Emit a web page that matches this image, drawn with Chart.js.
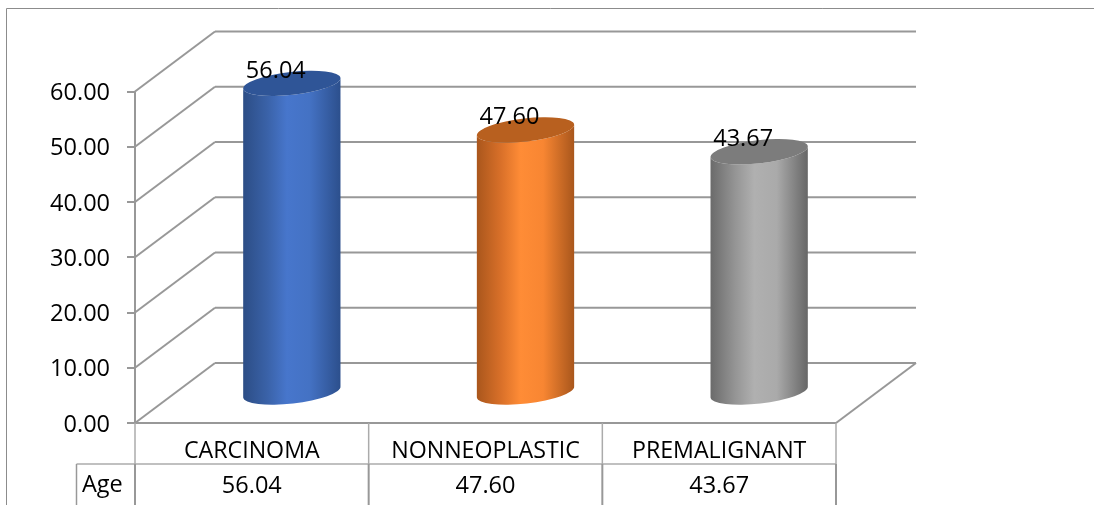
<!DOCTYPE html>
<html>
<head>
<meta charset="utf-8">
<style>
  html, body { margin: 0; padding: 0; background: #fff; }
  #wrap { width: 1094px; height: 505px; }
</style>
<script src="https://cdn.jsdelivr.net/npm/chart.js@4/dist/chart.umd.min.js"></script>
</head>
<body>
<div id="wrap"><canvas id="chart" width="1094" height="505"></canvas></div>
<script>
const categories = ['CARCINOMA', 'NONNEOPLASTIC', 'PREMALIGNANT'];
const ageValues = [56.04, 47.60, 43.67];
const seriesName = 'Age';
const yMax = 60;
const yStep = 10;
const bodyColors = [
  ['#2c4d85', '#3a62a8', '#4776cc', '#4472c4', '#2c4f8c'],
  ['#a9561c', '#d97029', '#ff8c36', '#f88632', '#a8561c'],
  ['#6a6a6a', '#949494', '#b0b0b0', '#aaaaaa', '#666666']
];
const topColors = ['#2f5597', '#b8601f', '#7c7c7c'];

const NUMBER_FONT = '23.5px "Open Sans", sans-serif';
const LINE = '#989898';
const TABLE_LINE = '#ababab';
const FRAME = '#8c8c8c';
const DEPTH = { x: 80, y: -60 };

function segment(ctx, x1, y1, x2, y2) {
  ctx.beginPath();
  ctx.moveTo(x1, y1);
  ctx.lineTo(x2, y2);
  ctx.stroke();
}

// Frame, back wall, side wall and floor of the 3D box, behind the cylinders.
const boxPlugin = {
  id: 'box',
  beforeDatasetsDraw(chart) {
    const { ctx, scales: { x, y } } = chart;
    const left = x.left, right = x.right;
    ctx.save();
    ctx.strokeStyle = FRAME;
    ctx.lineWidth = 1;
    segment(ctx, 6.5, 505, 6.5, 8.5);
    segment(ctx, 6.5, 8.5, 1094, 8.5);

    ctx.strokeStyle = LINE;
    ctx.lineWidth = 2;
    for (let v = 0; v <= yMax; v += yStep) {
      const py = y.getPixelForValue(v);
      segment(ctx, left, py, left + DEPTH.x, py + DEPTH.y);
      segment(ctx, left + DEPTH.x, py + DEPTH.y, right + DEPTH.x, py + DEPTH.y);
    }
    const floor = y.getPixelForValue(0);
    segment(ctx, left, y.top, left, floor);
    segment(ctx, left, floor, right, floor);
    segment(ctx, right, floor, right + DEPTH.x, floor + DEPTH.y);
    ctx.restore();
  }
};

// Replaces the flat bars with cylinders standing mid-way into the box.
const cylinderPlugin = {
  id: 'cylinders',
  beforeDatasetDraw(chart, args) {
    const { ctx } = chart;
    const tilt = -Math.atan2(5.5, 49);
    args.meta.data.forEach((bar, i) => {
      const cx = bar.x + DEPTH.x / 2;
      const rx = bar.width / 2;
      const ry = 11.5;
      const topY = bar.y + DEPTH.y / 2;
      const baseY = bar.base + DEPTH.y / 2;
      const grad = ctx.createLinearGradient(cx - rx, 0, cx + rx, 0);
      const stops = [0, 0.25, 0.45, 0.68, 1];
      bodyColors[i].forEach((c, k) => grad.addColorStop(stops[k], c));
      ctx.save();
      ctx.fillStyle = grad;
      ctx.beginPath();
      ctx.ellipse(cx, baseY, rx, ry, tilt, 0, Math.PI);
      ctx.ellipse(cx, topY, rx, ry, tilt, Math.PI, 0, true);
      ctx.closePath();
      ctx.fill();
      ctx.fillStyle = topColors[i];
      ctx.beginPath();
      ctx.ellipse(cx, topY, rx, ry, tilt, 0, Math.PI * 2);
      ctx.fill();
      ctx.restore();
    });
    return false;
  },
  afterDatasetsDraw(chart) {
    const { ctx } = chart;
    const meta = chart.getDatasetMeta(0);
    ctx.save();
    ctx.fillStyle = '#000';
    ctx.font = NUMBER_FONT;
    ctx.textAlign = 'center';
    ctx.textBaseline = 'middle';
    meta.data.forEach((bar, i) => {
      ctx.fillText(ageValues[i].toFixed(2), bar.x + DEPTH.x / 2 - 16, bar.y + DEPTH.y / 2 - 12.5);
    });
    ctx.restore();
  }
};

// Data table under the category axis.
const tablePlugin = {
  id: 'dataTable',
  afterDraw(chart) {
    const { ctx, scales: { x, y } } = chart;
    const top = y.getPixelForValue(0);
    const rowY = 464;
    const bottom = 505;
    const keyLeft = 76.5;
    ctx.save();
    ctx.strokeStyle = TABLE_LINE;
    ctx.lineWidth = 1.5;
    const step = (x.right - x.left) / categories.length;
    for (let i = 0; i <= categories.length; i++) {
      const px = x.left + step * i;
      segment(ctx, px, top, px, rowY);
    }
    segment(ctx, keyLeft, rowY, x.right, rowY);
    ctx.strokeStyle = LINE;
    ctx.lineWidth = 2;
    for (let i = 0; i <= categories.length; i++) {
      const px = x.left + step * i;
      segment(ctx, px, rowY, px, bottom);
    }
    ctx.lineWidth = 1.5;
    segment(ctx, keyLeft, rowY, keyLeft, bottom);

    ctx.fillStyle = '#000';
    ctx.font = NUMBER_FONT;
    ctx.textBaseline = 'middle';
    ctx.textAlign = 'center';
    ageValues.forEach((v, i) => {
      ctx.fillText(v.toFixed(2), x.getPixelForTick(i), 486);
    });
    ctx.textAlign = 'left';
    ctx.fillText(seriesName, 82, 485);
    ctx.restore();
  }
};

new Chart(document.getElementById('chart'), {
  type: 'bar',
  data: {
    labels: categories,
    datasets: [{
      label: seriesName,
      data: ageValues,
      backgroundColor: ['#4472c4', '#ed7d31', '#a5a5a5'],
      barPercentage: 1,
      categoryPercentage: 0.419
    }]
  },
  plugins: [boxPlugin, cylinderPlugin, tablePlugin],
  options: {
    responsive: false,
    animation: false,
    layout: { padding: { top: 91.5, right: 258, left: 0, bottom: 0 } },
    plugins: { legend: { display: false }, tooltip: { enabled: false }, title: { display: false } },
    scales: {
      x: {
        afterFit(scale) { scale.height = 82; },
        grid: { display: false, drawTicks: false },
        border: { display: false },
        ticks: { color: '#000', font: { family: '"Open Sans", sans-serif', size: 23.2 }, padding: 14, maxRotation: 0 }
      },
      y: {
        min: 0,
        max: yMax,
        afterFit(scale) { scale.width = 135; },
        grid: { drawOnChartArea: false, color: LINE, lineWidth: 2, tickLength: 8 },
        border: { display: false },
        ticks: {
          stepSize: yStep,
          color: '#000',
          padding: 17,
          labelOffset: 2,
          font: { family: '"Open Sans", sans-serif', size: 23.5 },
          callback: v => v.toFixed(2)
        }
      }
    }
  }
});
</script>
</body>
</html>
